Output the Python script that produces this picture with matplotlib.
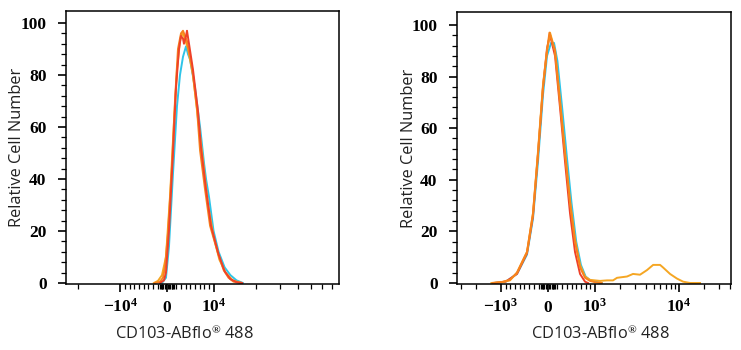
import numpy as np
import matplotlib.pyplot as plt
from matplotlib.ticker import FixedLocator

plt.rcParams['mathtext.fontset'] = 'custom'
plt.rcParams['mathtext.rm'] = 'Liberation Serif:bold'
plt.rcParams['mathtext.it'] = 'Liberation Serif:bold'
plt.rcParams['mathtext.bf'] = 'Liberation Serif:bold'

# ---- left panel data (fluorescence, relative cell number) ----
l_cyan_x = [-1075, -215, 430, 1290, 2150, 2795, 3440, 4085, 4515, 4945, 6020, 7100,
            7960, 8385, 9030, 10000, 10860, 12000, 13200, 14600, 16200]
l_cyan_y = [0, 2, 14, 42, 68, 80, 87, 91, 88, 86, 75, 60, 46, 40, 33, 20, 12, 6, 3, 1, 0]

l_gold_x = [-2800, -1935, -1075, -215, 645, 1505, 2150, 2795, 3225, 3650, 4515, 5590,
            6665, 7740, 8815, 10000, 11000, 12200, 13700, 15900]
l_gold_y = [0, 0.8, 3, 10, 33, 62, 82, 93, 96, 95, 90, 80, 63, 47, 30, 18, 9, 4, 1, 0]

l_orange_x = [-2580, -1505, -860, -430, 215, 1075, 1720, 2365, 3010, 3440, 3870, 4300,
              5375, 6450, 7100, 8170, 9250, 10680, 11800, 12800, 13900, 15900]
l_orange_y = [0, 0.5, 2, 6, 19, 45, 70, 90, 96, 97, 95, 93, 83, 67, 51, 36, 22, 12, 5, 2, 0.5, 0]

l_red_x = [-1505, -645, -215, 430, 1290, 1935, 2580, 3010, 3440, 3650, 4085, 4300, 4730,
           5590, 6665, 7310, 8385, 9460, 10860, 12000, 13200, 14600, 16000]
l_red_y = [0, 1, 4, 20, 50, 75, 90, 95, 94, 92, 95, 97, 92, 82, 66, 52, 36, 22, 11, 4.5,
           1.5, 0.3, 0]

# ---- right panel data ----
r_cyan_x = [-1200, -900, -660, -447, -319, -213, -106, -21, 64, 128, 200, 300, 400, 500,
            600, 700, 800, 900, 1000, 1200]
r_cyan_y = [0, 0.5, 3.5, 11, 25, 47, 73, 88, 93, 93, 86, 68, 49, 31, 16, 7, 2.5, 1, 0.5, 0]

r_red_x = [-1200, -900, -660, -447, -319, -213, -106, -21, 43, 149, 255, 362, 468, 574,
           681, 787, 850]
r_red_y = [0, 0.5, 3.5, 11.5, 26, 50, 76, 91, 96, 88, 68, 47, 27, 12, 3.5, 0.5, 0]

r_gold_x = [-1300, -979, -809, -660, -447, -319, -213, -106, -21, 43, 149, 255, 362, 468,
            574, 681, 787, 894, 1000, 1147, 1390, 1637, 1828, 2402, 2832, 3434, 4160,
            4920, 5950, 6460, 7820, 9460, 11200, 13500, 17800]
r_gold_y = [0, 0.3, 1, 4, 12, 27, 51, 77, 90, 97, 90, 71, 51, 32, 17, 7, 2.5, 1.2, 1,
            0.8, 1, 1, 2, 2.5, 3.5, 3.2, 5, 7, 7, 6, 3.5, 1.7, 0.5, 0, 0]

r_orange_x = [-1250, -979, -809, -660, -447, -319, -213, -106, -21, 30, 149, 255, 362,
              468, 574, 681, 787, 894, 1000, 1200]
r_orange_y = [0, 0.4, 1.2, 4, 12, 27, 50, 76, 90, 97, 90, 70, 50, 31, 16, 6, 2, 0.8, 0.3, 0]

CYAN = '#2ec4e8'
RED = '#ef4129'
ORANGE = '#f7821e'
GOLD = '#f5a623'

fig = plt.figure(figsize=(7.41, 3.5), dpi=100)
ax1 = fig.add_axes([66 / 741, 66 / 350, 273 / 741, 273 / 350])
ax2 = fig.add_axes([457 / 741, 66 / 350, 274 / 741, 272 / 350])

lw = 1.4
ax1.plot(l_cyan_x, l_cyan_y, color=CYAN, lw=lw)
ax1.plot(l_gold_x, l_gold_y, color=GOLD, lw=lw)
ax1.plot(l_orange_x, l_orange_y, color=ORANGE, lw=lw)
ax1.plot(l_red_x, l_red_y, color=RED, lw=lw)

ax2.plot(r_cyan_x, r_cyan_y, color=CYAN, lw=lw)
ax2.plot(r_red_x, r_red_y, color=RED, lw=lw)
ax2.plot(r_gold_x, r_gold_y, color=GOLD, lw=lw)
ax2.plot(r_orange_x, r_orange_y, color=ORANGE, lw=lw)

# biexponential-like x axes
ax1.set_xscale('symlog', linthresh=1e4, linscale=0.3)
ax1.set_xlim(-2.45e4, 7.9e4)
ax1.set_ylim(-0.4, 104.6)
ax2.set_xscale('symlog', linthresh=1e3, linscale=0.504)
ax2.set_xlim(-3.34e3, 4.16e4)
ax2.set_ylim(-0.4, 105)

l_major = [-1e4, 0, 1e4]
l_labels = [r'$-10^{4}$', r'$0$', r'$10^{4}$']
l_minor = ([-2e4] + [v for v in np.arange(-9000, 10000, 1000) if v != 0]
           + list(np.arange(-1500, 1750, 250)) + [2e4, 3e4, 4e4, 5e4, 6e4, 7e4])

r_major = [-1e3, 0, 1e3, 1e4]
r_labels = [r'$-10^{3}$', r'$0$', r'$10^{3}$', r'$10^{4}$']
r_minor = ([-3e3, -2e3] + [v for v in np.arange(-900, 1000, 100) if v != 0]
           + list(np.arange(-150, 175, 25))
           + [2e3, 3e3, 4e3, 5e3, 6e3, 7e3, 8e3, 9e3, 2e4, 3e4, 4e4])

for ax, maj, labs, mnr in [(ax1, l_major, l_labels, l_minor),
                           (ax2, r_major, r_labels, r_minor)]:
    ax.xaxis.set_major_locator(FixedLocator(maj))
    ax.set_xticklabels(labs)
    ax.xaxis.set_minor_locator(FixedLocator(mnr))
    ax.set_yticks([0, 20, 40, 60, 80, 100])
    ax.yaxis.set_minor_locator(FixedLocator(np.arange(0, 104, 4)))
    ax.tick_params(axis='both', which='major', length=6, width=1.2, color='black',
                   labelsize=12.5)
    ax.tick_params(axis='both', which='minor', length=3.5, width=0.9, color='black')
    ax.tick_params(axis='x', which='major', pad=4)
    ax.tick_params(axis='y', which='major', pad=8)
    for lab in ax.get_yticklabels():
        lab.set_fontfamily('Liberation Serif')
        lab.set_fontweight('bold')
    for s in ax.spines.values():
        s.set_linewidth(1.1)
        s.set_color('black')
    ax.set_ylabel('Relative Cell Number', fontfamily='Open Sans', fontsize=11.8,
                  color='#222222')
    ax.set_xlabel(r'CD103-ABflo$^{®}$ 488', fontfamily='Open Sans', fontsize=11.8,
                  color='#222222')

ax1.yaxis.set_label_coords(-0.15, 0.5)
ax2.yaxis.set_label_coords(-0.146, 0.5)
ax1.xaxis.set_label_coords(0.432, -0.15)
ax2.xaxis.set_label_coords(0.522, -0.15)

fig.savefig('out.png', dpi=100)
